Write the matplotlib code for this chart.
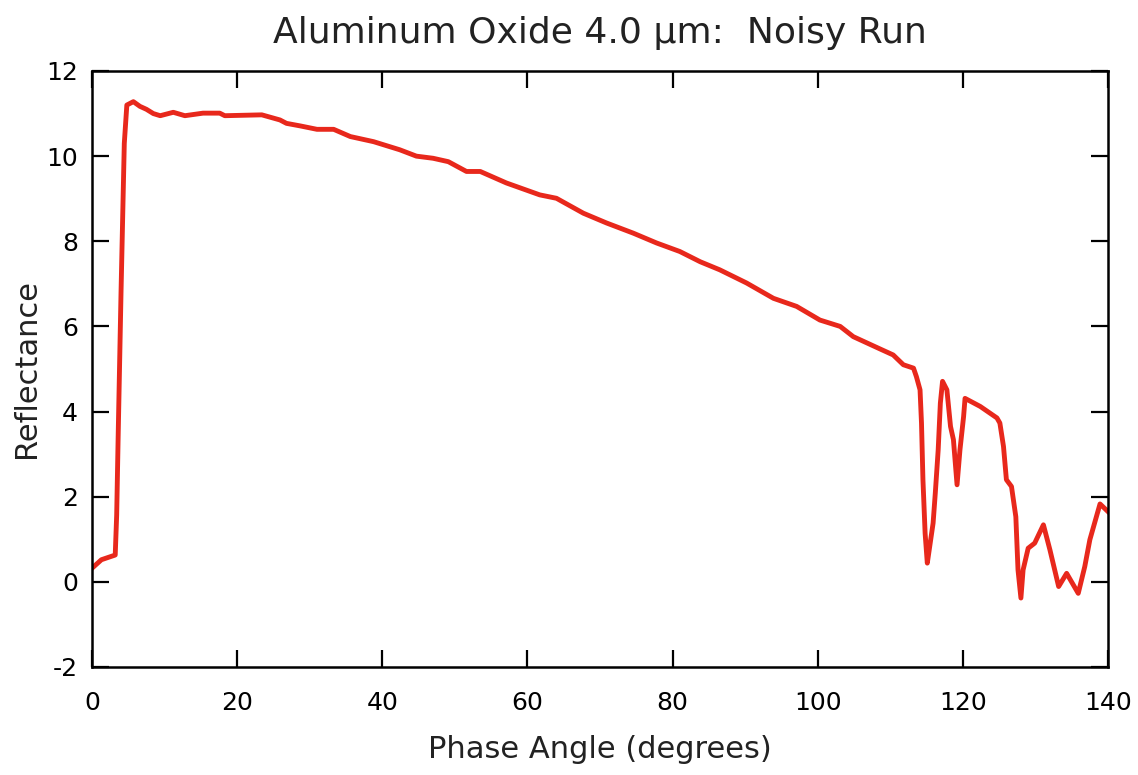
import matplotlib
matplotlib.use("Agg")
import matplotlib.pyplot as plt

phase_angle = [0.0, 1.3, 3.2, 3.4, 3.6, 4.0, 4.45, 4.8, 5.7, 6.6, 7.5, 8.45, 9.4,
               11.2, 12.8, 15.3, 17.6, 18.3, 23.4, 25.9, 26.8, 28.7, 31.0, 33.3,
               35.6, 38.8, 42.4, 44.7, 47.0, 49.1, 51.6, 53.5, 57.1, 61.7, 64.0,
               67.7, 70.9, 74.6, 77.8, 81.0, 83.8, 86.5, 90.2, 93.9, 97.1, 100.3,
               103.1, 104.9, 108.6, 110.4, 111.8, 113.2, 113.6, 114.1, 114.3,
               114.5, 114.8, 115.1, 115.5, 115.9, 116.2, 116.6, 116.9, 117.2,
               117.8, 118.3, 118.7, 119.2, 119.6, 120.1, 120.3, 122.4, 124.7,
               125.1, 125.6, 126.0, 126.7, 127.3, 127.6, 128.0, 128.3, 129.0,
               129.9, 131.1, 132.0, 133.2, 134.3, 135.9, 136.8, 137.5, 138.9, 140.0]
reflectance = [0.32, 0.52, 0.63, 1.57, 3.37, 6.8, 10.3, 11.2, 11.28, 11.17, 11.1,
               11.0, 10.95, 11.03, 10.95, 11.01, 11.01, 10.95, 10.97, 10.85, 10.77,
               10.71, 10.63, 10.63, 10.46, 10.34, 10.15, 10.0, 9.95, 9.87, 9.64,
               9.64, 9.37, 9.09, 9.01, 8.66, 8.43, 8.19, 7.96, 7.76, 7.52, 7.33,
               7.02, 6.66, 6.47, 6.15, 6.0, 5.76, 5.47, 5.33, 5.10, 5.02, 4.82,
               4.51, 3.73, 2.40, 1.14, 0.44, 0.91, 1.38, 2.08, 3.10, 4.2, 4.71,
               4.51, 3.65, 3.34, 2.28, 3.10, 3.88, 4.31, 4.12, 3.85, 3.73, 3.18,
               2.40, 2.24, 1.53, 0.28, -0.38, 0.28, 0.79, 0.91, 1.34, 0.75, -0.11,
               0.2, -0.27, 0.36, 0.99, 1.83, 1.65]

x_ticks = [0, 20, 40, 60, 80, 100, 120, 140]
y_ticks = [-2, 0, 2, 4, 6, 8, 10, 12]

plt.rcParams['font.family'] = ['DejaVu Sans']
plt.rcParams['axes.unicode_minus'] = False

fig = plt.figure(figsize=(11.38, 7.75), dpi=100)
ax = fig.add_axes([92/1138, 1 - 667/775, (1108 - 92)/1138, (667 - 71)/775])

ax.plot(phase_angle, reflectance, color='#e8281c', linewidth=3.5,
        solid_joinstyle='round', clip_on=True)

ax.set_xlim(0, 140)
ax.set_ylim(-2, 12)
ax.set_xticks(x_ticks)
ax.set_yticks(y_ticks)
ax.tick_params(axis='both', direction='in', length=12, width=1.6,
               labelsize=18, top=True, right=True, colors='black')
ax.tick_params(axis='x', pad=17)
ax.tick_params(axis='y', pad=10)
for sp in ax.spines.values():
    sp.set_linewidth(1.8)

ax.set_title('Aluminum Oxide 4.0 µm:  Noisy Run', fontsize=26, pad=20,
             color='#222222')
ax.set_xlabel('Phase Angle (degrees)', fontsize=22, labelpad=15, color='#222222')
ax.set_ylabel('Reflectance', fontsize=22, labelpad=4, color='#222222')

fig.savefig('out.png', dpi=100, facecolor='white')
